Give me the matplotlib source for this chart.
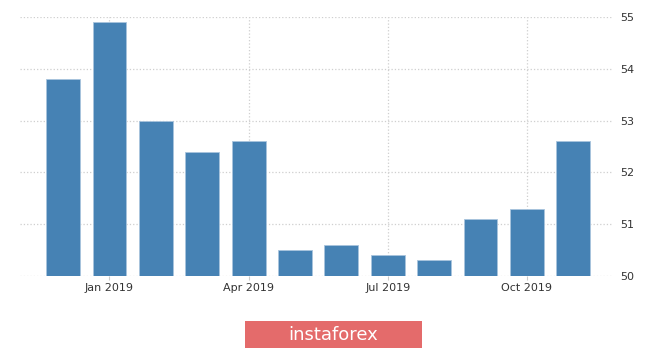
import matplotlib.pyplot as plt
from matplotlib.patches import Rectangle

# monthly values, Dec 2018 .. Nov 2019
months = ['Dec 2018', 'Jan 2019', 'Feb 2019', 'Mar 2019', 'Apr 2019', 'May 2019',
          'Jun 2019', 'Jul 2019', 'Aug 2019', 'Sep 2019', 'Oct 2019', 'Nov 2019']
values = [53.8, 54.9, 53.0, 52.4, 52.6, 50.5, 50.6, 50.4, 50.3, 51.1, 51.3, 52.6]
tick_labels = ['Jan 2019', 'Apr 2019', 'Jul 2019', 'Oct 2019']
y_ticks = [50, 51, 52, 53, 54, 55]

fig = plt.figure(figsize=(6.65, 3.52), dpi=100)
ax = fig.add_axes([0.030, 0.216, 0.890, 0.736])

x = list(range(len(months)))
ax.bar(x, [v - 50 for v in values], bottom=50, width=0.73,
       color='#4682b4', edgecolor='#a9c4dd', linewidth=0.6, zorder=3)

ax.set_xlim(-0.93, 11.83)
ax.set_ylim(50, 55)
ax.set_xticks([months.index(t) for t in tick_labels])
ax.set_xticklabels(tick_labels)
ax.set_yticks(y_ticks)
ax.yaxis.tick_right()
ax.tick_params(axis='y', length=0, pad=6, labelsize=8, labelcolor='#333333')
ax.tick_params(axis='x', length=3, color='#cccccc', pad=2, labelsize=8, labelcolor='#333333')
ax.grid(True, color='#cfcfcf', linestyle=':', linewidth=0.9, zorder=0)
for s in ax.spines.values():
    s.set_visible(False)

# watermark
fig.patches.append(Rectangle((245 / 665, 1 - 348 / 352), 177 / 665, 27 / 352,
                             transform=fig.transFigure, facecolor='#e46b6b',
                             edgecolor='none'))
fig.text(333.5 / 665, 1 - 334.5 / 352, 'instaforex', color='white', fontsize=13,
         ha='center', va='center')

fig.savefig('out.png', dpi=100)
